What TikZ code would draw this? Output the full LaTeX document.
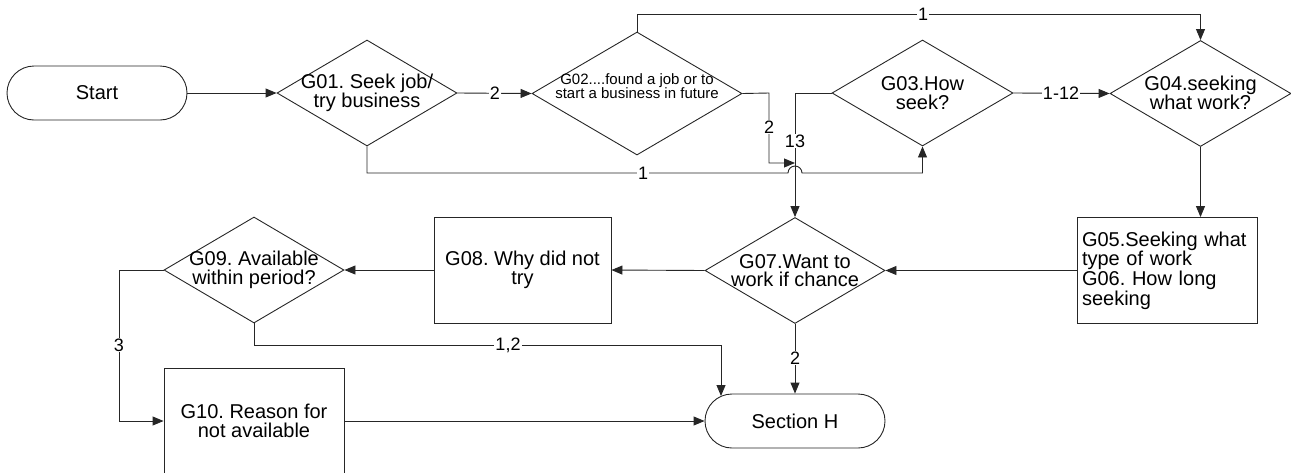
\documentclass[tikz,border=0pt]{standalone}
\usepackage{fontspec}
\setmainfont{Liberation Sans}
\usetikzlibrary{arrows.meta,shapes.geometric}
\frenchspacing
\begin{document}
\frenchspacing
\begin{tikzpicture}[x=1pt,y=-1pt,
  every node/.style={font=\fontsize{20}{18.5}\selectfont},
  ln/.style={draw=black!85, line width=0.9pt},
  arr/.style={ln, -{Triangle[length=11pt,width=9pt]}},
  dia/.style={diamond, draw=black!85, line width=0.9pt, inner sep=0pt, minimum width=180pt, minimum height=106pt},
  txt/.style={align=center, inner sep=0pt},
  procbox/.style={rectangle, draw=black!85, line width=0.9pt, minimum width=180pt, minimum height=106pt, align=center},
  term/.style={rectangle, rounded corners=27pt, draw=black!85, line width=0.9pt, minimum width=180pt, minimum height=54pt},
  lab/.style={fill=white, inner sep=1pt, font=\fontsize{18}{18}\selectfont},
]
\useasboundingbox (0,0) rectangle (1291,472);

% nodes
\node[term] (start) at (97,93) {Start};
\node[dia] (g01) at (367,93) {};
\node[txt] (g01t) at (367,93) {G01. Seek job/\\try business};
\node[dia, minimum width=210pt, minimum height=123pt] (g02) at (637,93.5) {};
\node[txt, font=\fontsize{15}{14}\selectfont] (g02t) at (637,86) {G02....found a job or to\\start a business in future};
\node[dia, minimum width=181pt] (g03) at (922.5,93) {};
\node[txt] (g03t) at (922.5,93) {G03.How\\seek?};
\node[dia, minimum width=181pt] (g04) at (1200.5,93.5) {};
\node[txt] (g04t) at (1200.5,93) {G04.seeking\\what work?};
\node[procbox, align=left, text width=170pt, inner sep=5pt] (g05) at (1167,270.5) {G05.Seeking what\\type of work\\G06. How long\\seeking};
\node[dia] (g07) at (795,270.5) {};
\node[txt] (g07t) at (795,270.5) {G07.Want to\\work if chance};
\node[procbox, minimum width=177pt] (g08) at (522.5,270) {G08. Why did not\\try};
\node[dia] (g09) at (254,270) {};
\node[txt] (g09t) at (254,270) {G09. Available\\within period?};
\node[procbox] (g10) at (254,421) {G10. Reason for\\not available};
\node[term] (sech) at (795,421) {Section H};

% helper coordinates
\coordinate (top1) at (637,14);
\coordinate (merge) at (795,163);
\coordinate (g02r) at (769,93);
\coordinate (low1) at (367,173);
\coordinate (c12) at (721,345);
\coordinate (c12b) at (721,396);
\coordinate (c3) at (119,270);

% connectors
\draw[arr] (start.east) -- (g01.west);
\draw[arr] (g01.east) -- (g02.west);
\draw[arr] (g02.north) -- (top1) -| (g04.north);
\draw[arr] (g03.east) -- (g04.west);
\draw[arr] (g04.south) -- (g04.south |- g05.north);
\draw[arr] (g05.west) -- (g07.east);
\draw[arr] (g07.west) -- (g08.east);
\draw[arr] (g08.west) -- (g09.east);
\draw[arr] (g07.south) -- (sech.north);
\draw[arr] (g09.south) |- (c12) -- (c12b);
\draw[arr] (g09.west) -- (c3) |- (g10.west);
\draw[arr] (g10.east) -- (sech.west);
\draw[arr] (g03.west) -| (g07.north);
\draw[arr] (g02.east) -- (g02r) |- (merge);
\draw[arr] (g01.south) -- (low1) -- (788,173) arc[start angle=180, end angle=0, radius=7pt] -- (g03.south |- low1) -- (g03.south);

% labels
\node[lab] (l1) at (495,93) {2};
\node[lab] (l2) at (923,14) {1};
\node[lab] (l3) at (1061,93) {1-12};
\node[lab] (l4) at (769,127) {2};
\node[lab] (l5) at (795,141) {13};
\node[lab] (l6) at (643,173) {1};
\node[lab] (l7) at (795,358) {2};
\node[lab] (l8) at (508,345) {1,2};
\node[lab] (l9) at (119,345) {3};
\end{tikzpicture}
\end{document}
